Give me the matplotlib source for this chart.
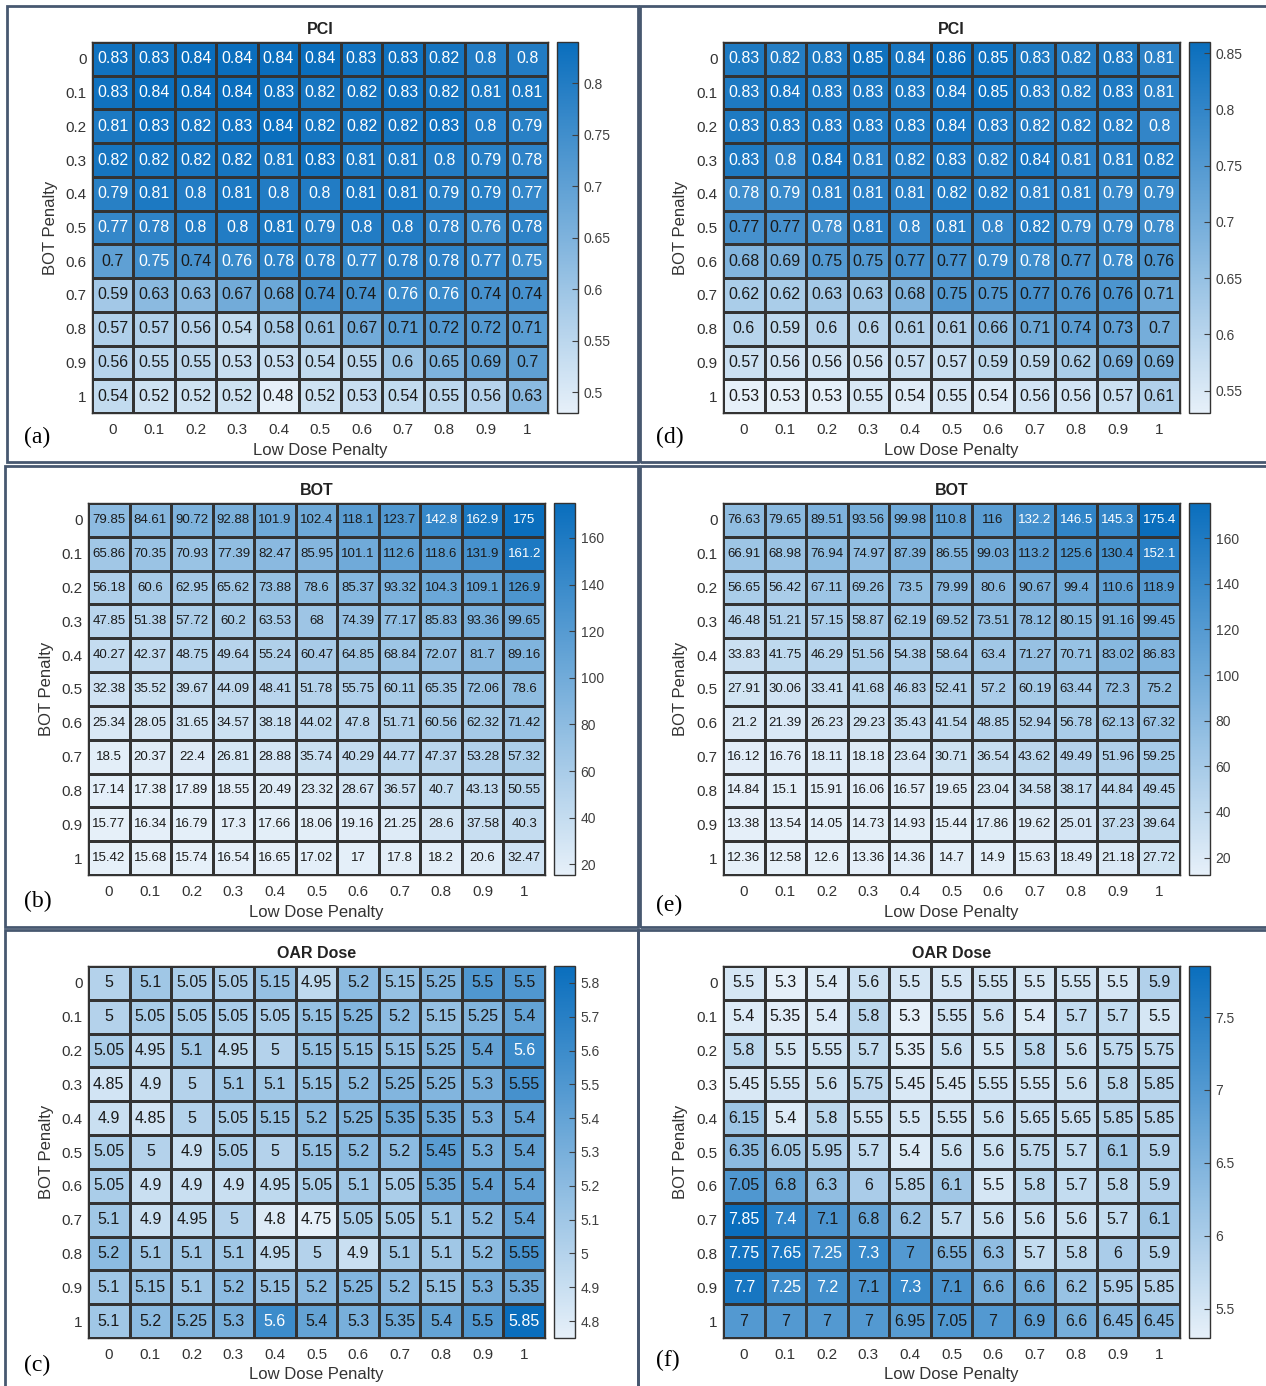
import numpy as np
import matplotlib.pyplot as plt
from matplotlib.colors import LinearSegmentedColormap
from matplotlib.patches import Rectangle

plt.rcParams['font.family'] = ['Liberation Sans', 'DejaVu Sans']

penalty = ['0', '0.1', '0.2', '0.3', '0.4', '0.5', '0.6', '0.7', '0.8', '0.9', '1']

# (a) PCI
pci_a = [
    [0.83, 0.83, 0.84, 0.84, 0.84, 0.84, 0.83, 0.83, 0.82, 0.8, 0.8],
    [0.83, 0.84, 0.84, 0.84, 0.83, 0.82, 0.82, 0.83, 0.82, 0.81, 0.81],
    [0.81, 0.83, 0.82, 0.83, 0.84, 0.82, 0.82, 0.82, 0.83, 0.8, 0.79],
    [0.82, 0.82, 0.82, 0.82, 0.81, 0.83, 0.81, 0.81, 0.8, 0.79, 0.78],
    [0.79, 0.81, 0.8, 0.81, 0.8, 0.8, 0.81, 0.81, 0.79, 0.79, 0.77],
    [0.77, 0.78, 0.8, 0.8, 0.81, 0.79, 0.8, 0.8, 0.78, 0.76, 0.78],
    [0.7, 0.75, 0.74, 0.76, 0.78, 0.78, 0.77, 0.78, 0.78, 0.77, 0.75],
    [0.59, 0.63, 0.63, 0.67, 0.68, 0.74, 0.74, 0.76, 0.76, 0.74, 0.74],
    [0.57, 0.57, 0.56, 0.54, 0.58, 0.61, 0.67, 0.71, 0.72, 0.72, 0.71],
    [0.56, 0.55, 0.55, 0.53, 0.53, 0.54, 0.55, 0.6, 0.65, 0.69, 0.7],
    [0.54, 0.52, 0.52, 0.52, 0.48, 0.52, 0.53, 0.54, 0.55, 0.56, 0.63],
]

# (b) BOT
bot_b = [
    [79.85, 84.61, 90.72, 92.88, 101.9, 102.4, 118.1, 123.7, 142.8, 162.9, 175],
    [65.86, 70.35, 70.93, 77.39, 82.47, 85.95, 101.1, 112.6, 118.6, 131.9, 161.2],
    [56.18, 60.6, 62.95, 65.62, 73.88, 78.6, 85.37, 93.32, 104.3, 109.1, 126.9],
    [47.85, 51.38, 57.72, 60.2, 63.53, 68, 74.39, 77.17, 85.83, 93.36, 99.65],
    [40.27, 42.37, 48.75, 49.64, 55.24, 60.47, 64.85, 68.84, 72.07, 81.7, 89.16],
    [32.38, 35.52, 39.67, 44.09, 48.41, 51.78, 55.75, 60.11, 65.35, 72.06, 78.6],
    [25.34, 28.05, 31.65, 34.57, 38.18, 44.02, 47.8, 51.71, 60.56, 62.32, 71.42],
    [18.5, 20.37, 22.4, 26.81, 28.88, 35.74, 40.29, 44.77, 47.37, 53.28, 57.32],
    [17.14, 17.38, 17.89, 18.55, 20.49, 23.32, 28.67, 36.57, 40.7, 43.13, 50.55],
    [15.77, 16.34, 16.79, 17.3, 17.66, 18.06, 19.16, 21.25, 28.6, 37.58, 40.3],
    [15.42, 15.68, 15.74, 16.54, 16.65, 17.02, 17, 17.8, 18.2, 20.6, 32.47],
]

# (c) OAR Dose
oar_c = [
    [5, 5.1, 5.05, 5.05, 5.15, 4.95, 5.2, 5.15, 5.25, 5.5, 5.5],
    [5, 5.05, 5.05, 5.05, 5.05, 5.15, 5.25, 5.2, 5.15, 5.25, 5.4],
    [5.05, 4.95, 5.1, 4.95, 5, 5.15, 5.15, 5.15, 5.25, 5.4, 5.6],
    [4.85, 4.9, 5, 5.1, 5.1, 5.15, 5.2, 5.25, 5.25, 5.3, 5.55],
    [4.9, 4.85, 5, 5.05, 5.15, 5.2, 5.25, 5.35, 5.35, 5.3, 5.4],
    [5.05, 5, 4.9, 5.05, 5, 5.15, 5.2, 5.2, 5.45, 5.3, 5.4],
    [5.05, 4.9, 4.9, 4.9, 4.95, 5.05, 5.1, 5.05, 5.35, 5.4, 5.4],
    [5.1, 4.9, 4.95, 5, 4.8, 4.75, 5.05, 5.05, 5.1, 5.2, 5.4],
    [5.2, 5.1, 5.1, 5.1, 4.95, 5, 4.9, 5.1, 5.1, 5.2, 5.55],
    [5.1, 5.15, 5.1, 5.2, 5.15, 5.2, 5.25, 5.2, 5.15, 5.3, 5.35],
    [5.1, 5.2, 5.25, 5.3, 5.6, 5.4, 5.3, 5.35, 5.4, 5.5, 5.85],
]

# (d) PCI
pci_d = [
    [0.83, 0.82, 0.83, 0.85, 0.84, 0.86, 0.85, 0.83, 0.82, 0.83, 0.81],
    [0.83, 0.84, 0.83, 0.83, 0.83, 0.84, 0.85, 0.83, 0.82, 0.83, 0.81],
    [0.83, 0.83, 0.83, 0.83, 0.83, 0.84, 0.83, 0.82, 0.82, 0.82, 0.8],
    [0.83, 0.8, 0.84, 0.81, 0.82, 0.83, 0.82, 0.84, 0.81, 0.81, 0.82],
    [0.78, 0.79, 0.81, 0.81, 0.81, 0.82, 0.82, 0.81, 0.81, 0.79, 0.79],
    [0.77, 0.77, 0.78, 0.81, 0.8, 0.81, 0.8, 0.82, 0.79, 0.79, 0.78],
    [0.68, 0.69, 0.75, 0.75, 0.77, 0.77, 0.79, 0.78, 0.77, 0.78, 0.76],
    [0.62, 0.62, 0.63, 0.63, 0.68, 0.75, 0.75, 0.77, 0.76, 0.76, 0.71],
    [0.6, 0.59, 0.6, 0.6, 0.61, 0.61, 0.66, 0.71, 0.74, 0.73, 0.7],
    [0.57, 0.56, 0.56, 0.56, 0.57, 0.57, 0.59, 0.59, 0.62, 0.69, 0.69],
    [0.53, 0.53, 0.53, 0.55, 0.54, 0.55, 0.54, 0.56, 0.56, 0.57, 0.61],
]

# (e) BOT
bot_e = [
    [76.63, 79.65, 89.51, 93.56, 99.98, 110.8, 116, 132.2, 146.5, 145.3, 175.4],
    [66.91, 68.98, 76.94, 74.97, 87.39, 86.55, 99.03, 113.2, 125.6, 130.4, 152.1],
    [56.65, 56.42, 67.11, 69.26, 73.5, 79.99, 80.6, 90.67, 99.4, 110.6, 118.9],
    [46.48, 51.21, 57.15, 58.87, 62.19, 69.52, 73.51, 78.12, 80.15, 91.16, 99.45],
    [33.83, 41.75, 46.29, 51.56, 54.38, 58.64, 63.4, 71.27, 70.71, 83.02, 86.83],
    [27.91, 30.06, 33.41, 41.68, 46.83, 52.41, 57.2, 60.19, 63.44, 72.3, 75.2],
    [21.2, 21.39, 26.23, 29.23, 35.43, 41.54, 48.85, 52.94, 56.78, 62.13, 67.32],
    [16.12, 16.76, 18.11, 18.18, 23.64, 30.71, 36.54, 43.62, 49.49, 51.96, 59.25],
    [14.84, 15.1, 15.91, 16.06, 16.57, 19.65, 23.04, 34.58, 38.17, 44.84, 49.45],
    [13.38, 13.54, 14.05, 14.73, 14.93, 15.44, 17.86, 19.62, 25.01, 37.23, 39.64],
    [12.36, 12.58, 12.6, 13.36, 14.36, 14.7, 14.9, 15.63, 18.49, 21.18, 27.72],
]

# (f) OAR Dose
oar_f = [
    [5.5, 5.3, 5.4, 5.6, 5.5, 5.5, 5.55, 5.5, 5.55, 5.5, 5.9],
    [5.4, 5.35, 5.4, 5.8, 5.3, 5.55, 5.6, 5.4, 5.7, 5.7, 5.5],
    [5.8, 5.5, 5.55, 5.7, 5.35, 5.6, 5.5, 5.8, 5.6, 5.75, 5.75],
    [5.45, 5.55, 5.6, 5.75, 5.45, 5.45, 5.55, 5.55, 5.6, 5.8, 5.85],
    [6.15, 5.4, 5.8, 5.55, 5.5, 5.55, 5.6, 5.65, 5.65, 5.85, 5.85],
    [6.35, 6.05, 5.95, 5.7, 5.4, 5.6, 5.6, 5.75, 5.7, 6.1, 5.9],
    [7.05, 6.8, 6.3, 6, 5.85, 6.1, 5.5, 5.8, 5.7, 5.8, 5.9],
    [7.85, 7.4, 7.1, 6.8, 6.2, 5.7, 5.6, 5.6, 5.6, 5.7, 6.1],
    [7.75, 7.65, 7.25, 7.3, 7, 6.55, 6.3, 5.7, 5.8, 6, 5.9],
    [7.7, 7.25, 7.2, 7.1, 7.3, 7.1, 6.6, 6.6, 6.2, 5.95, 5.85],
    [7, 7, 7, 7, 6.95, 7.05, 7, 6.9, 6.6, 6.45, 6.45],
]

ticks_pci_a = [0.5, 0.55, 0.6, 0.65, 0.7, 0.75, 0.8]
ticks_pci_d = [0.55, 0.6, 0.65, 0.7, 0.75, 0.8, 0.85]
ticks_bot = [20, 40, 60, 80, 100, 120, 140, 160]
ticks_oar_c = [4.8, 4.9, 5, 5.1, 5.2, 5.3, 5.4, 5.5, 5.6, 5.7, 5.8]
ticks_oar_f = [5.5, 6, 6.5, 7, 7.5]

W, H = 1266, 1386
fig = plt.figure(figsize=(W / 100, H / 100), dpi=100)

blues = LinearSegmentedColormap.from_list('mblue', ['#e6f0f9', '#0a6ebd'])
frame = '#475870'
grid = '#333333'


def box(x0, y0, x1, y1):
    return [x0 / W, 1 - y1 / H, (x1 - x0) / W, (y1 - y0) / H]


def heat(data, title, fs, cells, cb, ticks, letter, lxy):
    z = np.array(data, dtype=float)
    x0, y0, x1, y1 = cells
    ax = fig.add_axes(box(x0, y0, x1, y1))
    vmin, vmax = z.min(), z.max()
    mesh = ax.pcolormesh(z, cmap=blues, vmin=vmin, vmax=vmax,
                         edgecolors=grid, linewidth=0.8)
    ax.set_xlim(0, 11)
    ax.set_ylim(11, 0)
    for i in range(11):
        for j in range(11):
            v = z[i, j]
            col = 'white' if (v - vmin) / (vmax - vmin) > 0.73 else '#1a1a1a'
            ax.text(j + 0.5, i + 0.5, f'{v:.4g}', ha='center', va='center',
                    fontsize=fs, color=col)
    ax.set_xticks(np.arange(11) + 0.5, penalty)
    ax.set_yticks(np.arange(11) + 0.5, penalty)
    ax.tick_params(axis='x', length=0, labelsize=11, colors='#333333', pad=7)
    ax.tick_params(axis='y', length=0, labelsize=11, colors='#333333', pad=4)
    for s in ax.spines.values():
        s.set_edgecolor(grid)
        s.set_linewidth(1)
    ax.set_title(title, fontsize=11.5, fontweight='bold', color='#222222', pad=6)

    cx = (x0 + x1) / 2
    cy = (y0 + y1) / 2
    fig.text(cx / W, 1 - (y1 + 37) / H, 'Low Dose Penalty', ha='center',
             va='center', fontsize=12, color='#333333')
    fig.text((x0 - 42) / W, 1 - cy / H, 'BOT Penalty', ha='center',
             va='center', rotation=90, fontsize=12, color='#333333')
    fig.text(lxy[0] / W, 1 - lxy[1] / H, letter, ha='left', va='center',
             fontsize=17, family=['Liberation Serif', 'DejaVu Serif'])

    cax = fig.add_axes(box(cb[0], y0, cb[1], y1))
    bar = fig.colorbar(mesh, cax=cax)
    bar.set_ticks(ticks, labels=[f'{t:g}' for t in ticks])
    bar.outline.set_edgecolor(grid)
    bar.outline.set_linewidth(1)
    cax.tick_params(direction='in', length=4, width=0.8, labelsize=10,
                    colors='#404040', pad=4)


heat(pci_a, 'PCI', 11.5, (92, 42, 548, 413), (557, 578), ticks_pci_a, '(a)', (24, 437))
heat(bot_b, 'BOT', 9.5, (88, 503, 545, 875), (554, 575), ticks_bot, '(b)', (24, 901))
heat(oar_c, 'OAR Dose', 11.5, (88, 966, 545, 1338), (554, 575), ticks_oar_c, '(c)', (24, 1365))
heat(pci_d, 'PCI', 11.5, (723, 42, 1180, 413), (1189, 1210), ticks_pci_d, '(d)', (656, 437))
heat(bot_e, 'BOT', 9.5, (723, 503, 1180, 875), (1189, 1210), ticks_bot, '(e)', (656, 905))
heat(oar_f, 'OAR Dose', 11.5, (723, 966, 1180, 1338), (1189, 1210), ticks_oar_f, '(f)', (656, 1360))

# panel frames
for x0, y0, x1, y1 in [(7, 6, 638, 462), (640, 6, 1270, 462),
                       (5, 466, 638, 927), (640, 466, 1270, 927),
                       (5, 930, 638, 1392), (638, 930, 1270, 1392)]:
    fig.add_artist(Rectangle((x0 / W, 1 - y1 / H), (x1 - x0) / W, (y1 - y0) / H,
                             transform=fig.transFigure, fill=False,
                             edgecolor=frame, linewidth=2))

plt.savefig('out.png', dpi=100)
